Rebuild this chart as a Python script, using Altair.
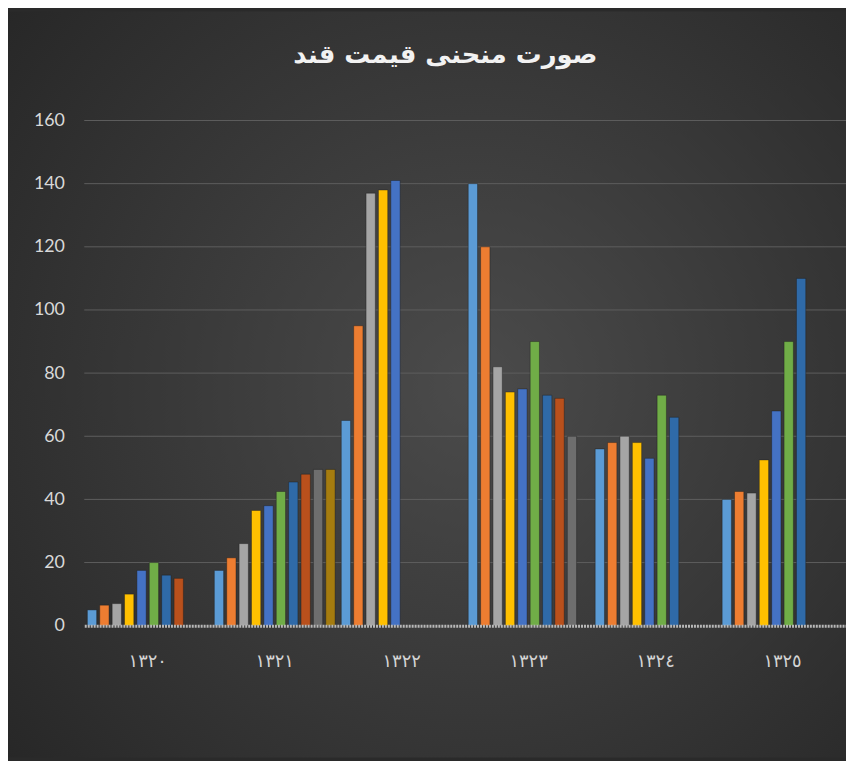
import altair as alt
import pandas as pd

years = ["١٣٢٠", "١٣٢١", "١٣٢٢", "١٣٢٣", "١٣٢٤", "١٣٢٥"]
series = ["s1", "s2", "s3", "s4", "s5", "s6", "s7", "s8", "s9", "s10"]
colors = ["#5B9BD5", "#ED7D31", "#A5A5A5", "#FFC000", "#4472C4",
          "#70AD47", "#2f6aa8", "#b9501c", "#6e6e6e", "#a57c0f"]

v1320 = [5, 6.5, 7, 10, 17.5, 20, 16, 15, None, None]
v1321 = [17.5, 21.5, 26, 36.5, 38, 42.5, 45.5, 48, 49.5, 49.5]
v1322 = [65, 95, 137, 138, 141, None, None, None, None, None]
v1323 = [140, 120, 82, 74, 75, 90, 73, 72, 60, None]
v1324 = [56, 58, 60, 58, 53, 73, 66, None, None, None]
v1325 = [40, 42.5, 42, 52.5, 68, 90, 110, None, None, None]
y_ticks = [0, 20, 40, 60, 80, 100, 120, 140, 160]

rows = []
for yr, vals in zip(years, [v1320, v1321, v1322, v1323, v1324, v1325]):
    for s, v in zip(series, vals):
        if v is not None:
            rows.append({"year": yr, "series": s, "value": v})
df = pd.DataFrame(rows)
grid_df = pd.DataFrame({"t": y_ticks[1:]})

W, H = 769, 510
PL, PT, PB = 77, 110, 133

bg = alt.Chart(alt.Data(values=[{}])).mark_rect(
    color={
        "gradient": "radial",
        "x1": 0.55, "y1": 0.5, "r1": 0,
        "x2": 0.55, "y2": 0.5, "r2": 0.75,
        "stops": [
            {"offset": 0, "color": "#4b4b4b"},
            {"offset": 1, "color": "#252525"},
        ],
    }
).encode(
    x=alt.value(-PL), x2=alt.value(W + 10),
    y=alt.value(-PT), y2=alt.value(H + PB),
)

ydom = alt.Scale(domain=[0, 160], nice=False)
yaxis = alt.Axis(title=None, values=y_ticks, grid=False, ticks=False,
                 domain=False, labelFont="Lato", labelFontSize=18,
                 labelColor="#d9d9d9", labelPadding=20, zindex=1)

grid = alt.Chart(grid_df).mark_rule(color="#5e5e5e", strokeWidth=1).encode(
    y=alt.Y("t:Q", scale=ydom, axis=yaxis)
)

bars = alt.Chart(df).mark_bar(stroke="#1e1e1e", strokeWidth=0.7, strokeOpacity=0.6).encode(
    x=alt.X("year:N", sort=years,
            scale=alt.Scale(paddingInner=0, paddingOuter=0),
            axis=alt.Axis(title=None, labelAngle=0, ticks=False,
                          labelFont="DejaVu Sans", labelFontSize=18,
                          labelColor="#d4d4d4", labelPadding=27,
                          domainColor="#b8b8b8", domainWidth=3,
                          domainDash=[2, 1], zindex=1)),
    xOffset=alt.XOffset("series:N",
                        scale=alt.Scale(domain=series, paddingInner=0.25, paddingOuter=0.25)),
    y=alt.Y("value:Q", scale=ydom, axis=yaxis),
    color=alt.Color("series:N", scale=alt.Scale(domain=series, range=colors), legend=None),
)

chart = alt.layer(bg, grid, bars).properties(
    width=W, height=H,
    title=alt.TitleParams(
        "صورت منحنی قیمت قند",
        font="DejaVu Sans", fontSize=26, fontWeight="bold", color="#f2f2f2",
        anchor="middle", frame="group", dx=-20, offset=-57,
    ),
    autosize=alt.AutoSizeParams(type="none"),
    padding={"left": PL, "top": PT, "right": 0, "bottom": PB},
).configure(background="#2a2a2a").configure_view(stroke=None)

chart.save("out.html", embed_options={"renderer": "svg", "actions": False})
